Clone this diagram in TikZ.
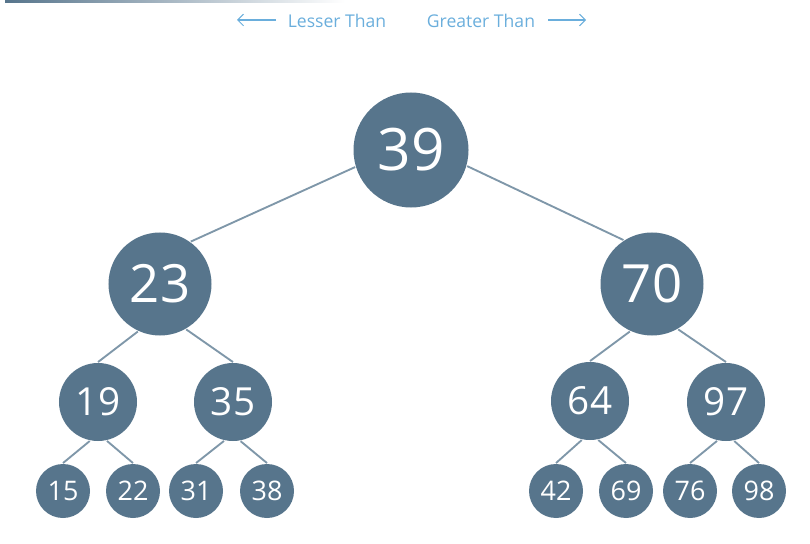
\documentclass[tikz,border=0pt]{standalone}
\usepackage{fontspec}
\setmainfont{Open Sans}
\usetikzlibrary{arrows.meta}
\definecolor{nodeblue}{HTML}{57758C}
\definecolor{edgeblue}{HTML}{7F97A9}
\definecolor{hintblue}{HTML}{6AAEDC}
\begin{document}
\begin{tikzpicture}[x=0.03cm, y=-0.03cm, line width=1.6pt,
  main node/.style={circle,fill=nodeblue,text=white,inner sep=0pt},
  top node/.style={main node,minimum size=3.45cm,font=\fontsize{50}{50}\selectfont},
  mid node/.style={main node,minimum size=3.09cm,font=\fontsize{45}{45}\selectfont},
  low node/.style={main node,minimum size=2.34cm,font=\fontsize{33}{33}\selectfont},
  leaf node/.style={main node,minimum size=1.62cm,font=\fontsize{23}{23}\selectfont},
  hint/.style={text=hintblue,font=\fontsize{15}{15}\selectfont},
  hint arrow/.style={hintblue,line width=0.9pt,-{Straight Barb[length=5pt,width=10pt]}}]
\useasboundingbox (0,0) rectangle (810,544);
\shade[left color=nodeblue, middle color=edgeblue!80, right color=white] (5,0) rectangle (345,2.5);
\begin{scope}
\node[hint] (lesser) at (337,21) {Lesser Than};
\node[hint] (greater) at (481,21) {Greater Than};
\coordinate (lend) at (237,20);
\coordinate (lstart) at (276,20);
\coordinate (rstart) at (548,20);
\coordinate (rend) at (586,20);
\draw[hint arrow] (lstart) -- (lend);
\draw[hint arrow] (rstart) -- (rend);
\end{scope}
\begin{scope}
\node[top node] (v39) at (411,150) {39};
\node[mid node] (v23) at (160,284) {23};
\node[mid node] (v70) at (652,284) {70};
\node[low node] (v19) at (98,402) {19};
\node[low node] (v35) at (233,402) {35};
\node[low node] (v64) at (590,401) {64};
\node[low node] (v97) at (726,402) {97};
\node[leaf node] (v15) at (63,491) {15};
\node[leaf node] (v22) at (133,491) {22};
\node[leaf node] (v31) at (196,491) {31};
\node[leaf node] (v38) at (267,491) {38};
\node[leaf node] (v42) at (556,491) {42};
\node[leaf node] (v69) at (626,491) {69};
\node[leaf node] (v76) at (690,491) {76};
\node[leaf node] (v98) at (759,491) {98};
\end{scope}
\begin{scope}[edgeblue]
\draw (v39.197) -- (v23.54);
\draw (v39.344) -- (v70.123);
\draw (v23.245) -- (v19.north);
\draw (v23.300) -- (v35.north);
\draw (v70.245) -- (v64.north);
\draw (v70.300) -- (v97.north);
\draw (v19.258) -- (v15.north);
\draw (v19.283) -- (v22.north);
\draw (v35.257) -- (v31.north);
\draw (v35.281) -- (v38.north);
\draw (v64.258) -- (v42.north);
\draw (v64.282) -- (v69.north);
\draw (v97.257) -- (v76.north);
\draw (v97.282) -- (v98.north);
\end{scope}
\end{tikzpicture}
\end{document}
